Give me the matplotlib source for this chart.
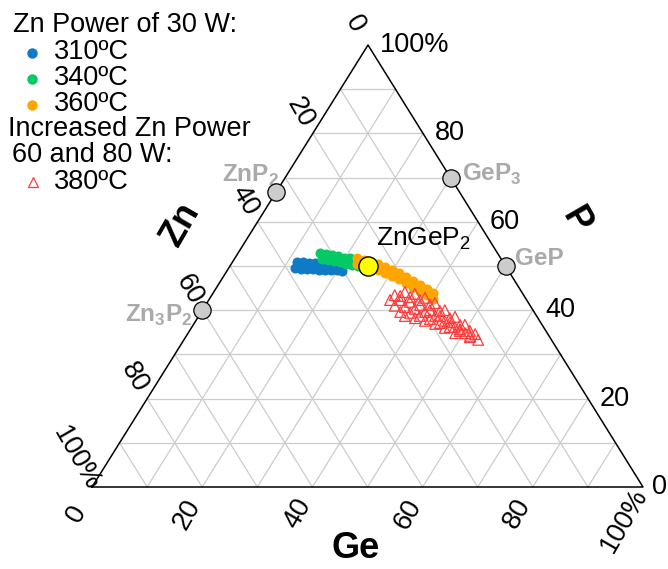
import matplotlib
matplotlib.use("Agg")
import matplotlib.pyplot as plt

plt.rcParams["font.family"] = ["Liberation Sans", "DejaVu Sans"]
plt.rcParams["mathtext.fontset"] = "custom"
plt.rcParams["mathtext.rm"] = "Liberation Sans"
plt.rcParams["mathtext.bf"] = "Liberation Sans:bold"

# compositions in at.% (Zn = 100 - Ge - P)
blue_ge = [11.7, 12.8, 14.0, 15.1, 16.3, 17.4, 18.5, 19.5,
           12.4, 13.6, 14.7, 15.8, 17.0, 18.1, 19.3, 20.2,
           12.1, 13.2, 14.3, 15.4, 16.6, 17.7, 18.8, 19.9, 20.9]
blue_p = [50.9, 50.8, 50.7, 50.6, 50.5, 50.4, 50.3, 50.2,
          50.2, 50.1, 50.0, 49.9, 49.8, 49.8, 49.6, 49.5,
          49.5, 49.4, 49.4, 49.3, 49.2, 49.1, 49.0, 49.0, 48.9]

green_ge = [14.9, 16.1, 17.3, 18.5, 19.7, 20.9, 22.2, 23.4,
            15.9, 17.2, 18.4, 19.6, 20.8, 22.0, 23.2, 24.4,
            15.9, 17.1, 18.3, 19.6, 20.8, 22.0, 23.2, 24.4]
green_p = [52.9, 52.7, 52.4, 52.2, 51.9, 51.7, 51.4, 51.1,
           52.3, 52.0, 51.7, 51.5, 51.2, 51.0, 50.7, 50.5,
           51.6, 51.3, 51.1, 50.8, 50.5, 50.3, 50.0, 49.8]

orange_ge = [22.1, 23.6, 25.1, 26.6, 28.2, 29.9, 31.5, 33.2, 34.9, 36.6, 38.4, 39.9,
             23.1, 24.6, 26.1, 27.7, 29.3, 30.9, 32.6, 34.3, 36.0, 37.7, 39.5,
             22.8, 24.3, 25.8, 27.3, 28.9, 30.5, 32.1, 33.8, 35.6, 37.3, 39.1, 40.6]
orange_p = [51.8, 51.4, 50.9, 50.5, 49.8, 49.1, 48.4, 47.5, 46.6, 45.7, 44.8, 43.9,
            50.9, 50.5, 50.0, 49.4, 48.8, 48.1, 47.3, 46.4, 45.5, 44.6, 43.7,
            50.5, 50.0, 49.5, 49.1, 48.4, 47.7, 47.1, 46.2, 45.2, 44.3, 43.4, 42.5]

red_ge = [33.2, 34.7, 36.7, 39.0, 41.4, 44.0, 46.6, 49.3, 52.2,
          34.3, 36.2, 38.3, 40.7, 43.2, 45.8, 48.4, 50.9,
          32.9, 34.7, 36.7, 38.9, 41.3, 43.8, 46.3, 48.9, 51.5,
          34.4, 36.4, 38.4, 40.6, 42.9, 45.2, 47.7, 50.3, 53.4,
          36.1, 38.0, 40.1, 42.3, 44.6, 46.8, 49.1, 51.6,
          37.4, 39.5, 41.6, 43.8, 46.0, 48.5]
red_p = [43.4, 44.1, 43.7, 42.8, 41.6, 40.0, 38.5, 36.7, 34.6,
         43.2, 43.0, 42.3, 41.2, 39.8, 38.2, 36.7, 35.3,
         42.3, 42.3, 41.9, 41.2, 40.0, 38.7, 37.3, 35.7, 34.2,
         41.0, 40.7, 40.3, 39.6, 38.7, 37.6, 36.2, 34.8, 33.3,
         39.6, 39.4, 38.7, 38.0, 37.1, 36.2, 35.3, 33.9,
         38.7, 38.2, 37.6, 36.9, 36.0, 34.8]

ref_names = ["ZnP$_\\mathbf{2}$", "GeP$_\\mathbf{3}$", "GeP", "Zn$_\\mathbf{3}$P$_\\mathbf{2}$"]
ref_ge = [0.0, 30.0, 50.0, 0.0]
ref_p = [66.7, 70.0, 50.0, 40.0]
target_ge, target_p = 25.0, 50.0

ticks = [0, 20, 40, 60, 80, 100]
tick_labels = ["0", "20", "40", "60", "80", "100%"]

# triangle corners in figure pixels (Zn, Ge, P)
V_ZN = (92.0, 487.0)
V_GE = (643.0, 487.0)
V_P = (368.0, 45.0)


def tern(ge, p):
    xs, ys = [], []
    for g, q in zip(ge, p):
        z = 100.0 - g - q
        xs.append((z * V_ZN[0] + g * V_GE[0] + q * V_P[0]) / 100.0)
        ys.append((z * V_ZN[1] + g * V_GE[1] + q * V_P[1]) / 100.0)
    return xs, ys


fig = plt.figure(figsize=(6.68, 5.69), dpi=100)
ax = fig.add_axes([0, 0, 1, 1])
ax.set_xlim(0, 668)
ax.set_ylim(569, 0)
ax.axis("off")

grid = dict(color="#cccccc", lw=0.9, zorder=1)
for v in range(10, 100, 10):
    x, y = tern([v, v], [0, 100 - v])
    ax.plot(x, y, **grid)
    x, y = tern([0, 100 - v], [v, v])
    ax.plot(x, y, **grid)
    x, y = tern([100 - v, 0], [0, 100 - v])
    ax.plot(x, y, **grid)

x, y = tern([0, 100, 0, 0], [0, 0, 100, 0])
ax.plot(x, y, color="black", lw=1.1, zorder=2)

# data
BLUE, GREEN, ORANGE, RED = "#0f7ac6", "#04c965", "#ffa500", "#ff3c3c"
x, y = tern(blue_ge, blue_p)
ax.scatter(x, y, s=52, color=BLUE, lw=0, zorder=3)
x, y = tern(green_ge, green_p)
ax.scatter(x, y, s=52, color=GREEN, lw=0, zorder=4)
x, y = tern(orange_ge, orange_p)
ax.scatter(x, y, s=52, color=ORANGE, lw=0, zorder=5)
x, y = tern(red_ge, red_p)
ax.scatter(x, y, s=60, marker="^", facecolor="none", edgecolor=RED, lw=0.9, zorder=6)

x, y = tern(ref_ge, ref_p)
ax.scatter(x, y, s=155, color="#cccccc", edgecolor="black", lw=0.9, zorder=7)
tx, ty = tern([target_ge], [target_p])
ax.scatter(tx, ty, s=190, color="#ffff00", edgecolor="black", lw=1.0, zorder=8)

# compound labels
grey = "#aaaaaa"
lfs = 17.5
ax.text(tx[0] + 8, ty[0] - 27, "ZnGeP$_2$", fontsize=19, va="center", ha="left")
rx, ry = tern(ref_ge, ref_p)
ax.text(rx[0] - 26, ry[0] - 17, ref_names[0], fontsize=lfs, color=grey, weight="bold", ha="center", va="center")
ax.text(rx[1] + 11, ry[1] - 3, ref_names[1], fontsize=lfs, color=grey, weight="bold", ha="left", va="center")
ax.text(rx[2] + 10, ry[2] - 8, ref_names[2], fontsize=lfs, color=grey, weight="bold", ha="left", va="center")
ax.text(rx[3] - 44, ry[3] + 5, ref_names[3], fontsize=lfs, color=grey, weight="bold", ha="center", va="center")

# tick labels
fs = 19.5
for t, lab in zip(ticks, tick_labels):
    # Ge (bottom)
    bx, by = tern([t], [0])
    dx, dy = (-19, 33) if lab.endswith("%") else (-15, 27)
    ax.text(bx[0] + dx, by[0] + dy, lab, fontsize=fs, rotation=60, ha="center", va="center",
            rotation_mode="anchor")
    # P (right)
    px, py = tern([100 - t], [t])
    ax.text(px[0] + (9 if t == 0 else 12), py[0], lab, fontsize=fs, ha="left", va="center")
    # Zn (left)
    lx, ly = tern([0], [100 - t])
    dx, dy = (-16, -28) if lab.endswith("%") else (-13, -21)
    ax.text(lx[0] + dx, ly[0] + dy, lab, fontsize=fs, rotation=-60, ha="center", va="center",
            rotation_mode="anchor")

ax.text(181, 224, "Zn", fontsize=26, weight="bold", rotation=60, ha="center", va="center")
ax.text(576, 221, "P", fontsize=26, weight="bold", rotation=-60, ha="center", va="center")
ax.text(356, 549, "Ge", fontsize=26, weight="bold", ha="center", va="center")

# legend
ax.text(13, 25, "Zn Power of 30 W:", fontsize=fs, ha="left", va="center")
for yy, col, lab in [(52, BLUE, "310ºC"), (78, GREEN, "340ºC"), (104, ORANGE, "360ºC")]:
    ax.plot([32], [yy + 1], "o", ms=7.5, color=col, mec="none")
    ax.text(54, yy, lab, fontsize=fs, ha="left", va="center")
ax.text(8, 129, "Increased Zn Power", fontsize=fs, ha="left", va="center")
ax.text(12, 155, "60 and 80 W:", fontsize=fs, ha="left", va="center")
ax.plot([33], [182], "^", ms=7, mfc="none", mec=RED, mew=0.9)
ax.text(54, 182, "380ºC", fontsize=fs, ha="left", va="center")

fig.savefig("out.png", dpi=100)
